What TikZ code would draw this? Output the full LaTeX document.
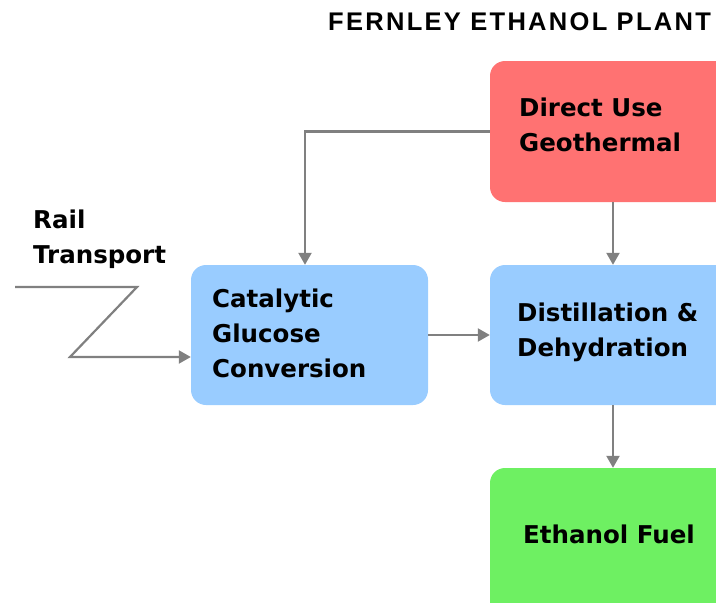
\documentclass[tikz,border=0pt]{standalone}
\usepackage{fontspec}
\setmainfont{DejaVu Sans}
\newfontfamily\titlefont[LetterSpace=9]{Liberation Sans}
\usetikzlibrary{arrows.meta}
\definecolor{redbox}{RGB}{255,114,114}
\definecolor{bluebox}{RGB}{153,204,255}
\definecolor{greenbox}{RGB}{110,240,98}
\definecolor{linegray}{RGB}{128,128,128}
\tikzset{
  box/.style={rectangle, rounded corners=15pt, draw=none, inner sep=0pt},
  lbl/.style={anchor=base west, inner sep=0pt, align=left,
    font=\bfseries\fontsize{24.5}{35}\selectfont},
  conn/.style={draw=linegray, line width=2.2pt,
    -{Triangle[width=13pt,length=12pt]}},
}
\begin{document}
\begin{tikzpicture}[x=1pt,y=-1pt]
\useasboundingbox (0,0) rectangle (716,603);
\clip (0,0) rectangle (716,603);
% title
\node[anchor=base west, inner sep=0pt, font=\titlefont\bfseries\fontsize{25.5}{28}\selectfont] (title) at (328,30.5) {FERNLEY ETHANOL PLANT};
% boxes
\node[box, fill=redbox, minimum width=246pt, minimum height=141pt] (geo) at (613,131.5) {};
\node[box, fill=bluebox, minimum width=237pt, minimum height=140pt] (cat) at (309.5,335) {};
\node[box, fill=bluebox, minimum width=246pt, minimum height=140pt] (dist) at (613,335) {};
\node[box, fill=greenbox, minimum width=246pt, minimum height=180pt] (fuel) at (613,558) {};
% labels (anchor = baseline of last line)
\node[lbl] (geol) at (519,151) {Direct Use\\Geothermal};
\node[lbl] (catl) at (212,377.5) {Catalytic\\Glucose\\Conversion};
\node[lbl] (distl) at (517,356) {Distillation \&\\Dehydration};
\node[lbl] (fuell) at (523,543.5) {Ethanol Fuel};
\node[lbl] (rail) at (33,263) {Rail\\Transport};
% connectors
\coordinate (gtop) at (305,131.5);
\draw[conn] (geo.west) -- (gtop) -- (gtop |- cat.north);
\draw[conn] (geo.south) -- (dist.north);
\draw[conn] (cat.east) -- (dist.west);
\draw[conn] (dist.south) -- (fuel.north);
\coordinate (r0) at (15,287);
\coordinate (r1) at (137,287);
\coordinate (r2) at (70,357);
\draw[conn] (r0) -- (r1) -- (r2) -- (r2 -| cat.west);
\end{tikzpicture}
\end{document}
